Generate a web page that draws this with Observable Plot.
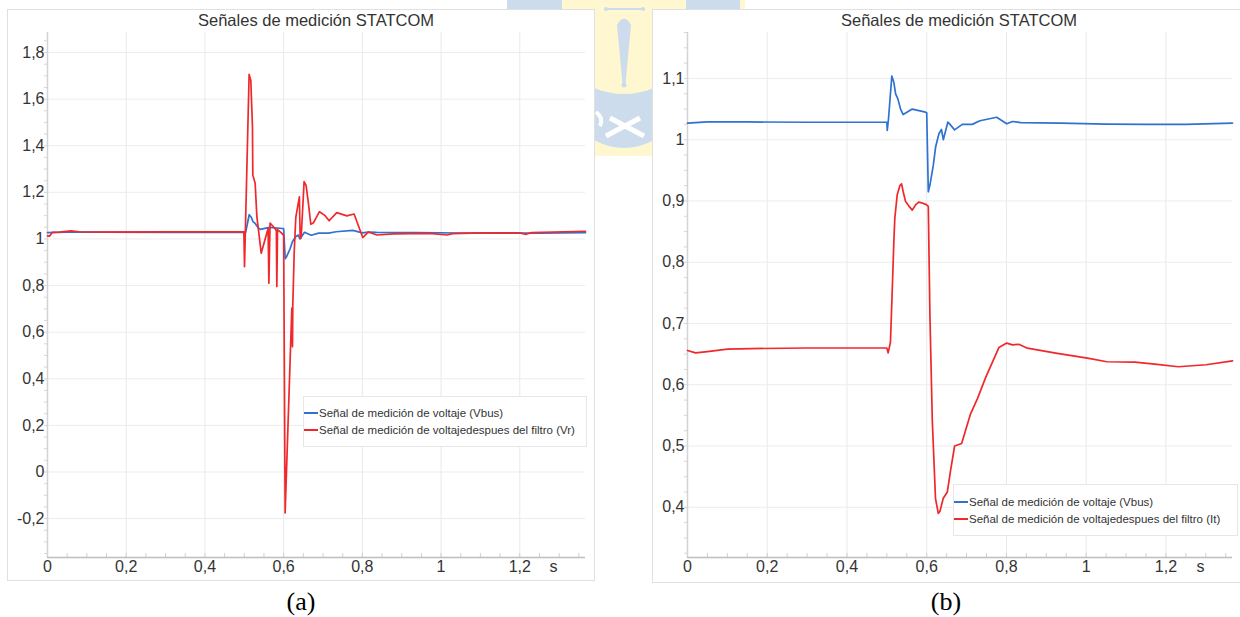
<!DOCTYPE html>
<html>
<head>
<meta charset="utf-8">
<script src="https://cdn.jsdelivr.net/npm/d3@7"></script>
<script src="https://cdn.jsdelivr.net/npm/@observablehq/plot@0.6"></script>
<style>
  html, body { margin: 0; padding: 0; background: #fff; }
  body { width: 1240px; height: 617px; overflow: hidden; position: relative; font-family: "Liberation Sans", Arial, sans-serif; }
  .panel { position: absolute; border: 1px solid #e0e0e0; background: #fff; box-sizing: border-box; }
  .chart { position: absolute; }
  .title { position: absolute; font-size: 16.5px; color: #333; transform: translateX(-50%); white-space: nowrap; line-height: 1; }
  .legend { position: absolute; border: 1px solid #e6e6e6; background: #fff; box-sizing: border-box; font-size: 11.5px; color: #333; }
  .legend .row { position: absolute; left: 0; display: flex; align-items: center; white-space: nowrap; height: 14px; }
  .legend .sw { width: 14px; height: 2px; margin-right: 1px; }
  .cap { position: absolute; font-family: "Liberation Serif", "Times New Roman", serif; font-size: 26px; color: #000; transform: translateX(-50%); line-height: 1; }
</style>
</head>
<body>
<svg id="logo" width="1240" height="617" style="position:absolute;left:0;top:0">
  <rect x="507" y="0" width="238" height="10" fill="#fff7cf"/>
  <rect x="507" y="0" width="55" height="10" fill="#cddcec"/>
  <rect x="686" y="0" width="54" height="10" fill="#cddcec"/>
  <rect x="594" y="0" width="60" height="156" fill="#fff7cf"/>
  <path d="M594,88 Q624,100 654,88 L654,140 Q624,156 594,140 Z" fill="#cddcec"/>
  <path d="M606,9 L643,9" stroke="#cddcec" stroke-width="2"/>
  <circle cx="606" cy="9" r="2" fill="#cddcec"/><circle cx="643" cy="9" r="2" fill="#cddcec"/>
  <path d="M617,25 Q624,12 631,25 L625.5,84 L622.5,84 Z" fill="#cddcec"/>
  <circle cx="624" cy="85" r="2.5" fill="#cddcec"/>
  <path d="M606,136 L640,118 M610,118 L644,136" stroke="#fff" stroke-width="5"/>
  <path d="M596,112 Q604,118 600,126" stroke="#fff" stroke-width="4" fill="none"/>
</svg>
<div class="panel" style="left:7px;top:9px;width:588px;height:572px"></div>
<div class="panel" style="left:652px;top:9px;width:600px;height:574px"></div>
<div class="title" style="left:316px;top:12px">Señales de medición STATCOM</div>
<div class="title" style="left:959px;top:12px">Señales de medición STATCOM</div>
<div id="chartA" class="chart" style="left:0;top:0"></div>
<div id="chartB" class="chart" style="left:620px;top:0"></div>
<div id="legendA" class="legend" style="left:303px;top:396px;width:284px;height:51px"></div>
<div id="legendB" class="legend" style="left:953px;top:484px;width:285px;height:52px"></div>
<div class="cap" style="left:301px;top:589px">(a)</div>
<div class="cap" style="left:946px;top:589px">(b)</div>
<script>
// ---------- data ----------
const chartTitle = "Señales de medición STATCOM";
const unitLabel = "s";
const seriesNamesA = ["Señal de medición de voltaje (Vbus)", "Señal de medición de voltajedespues del filtro (Vr)"];
const seriesNamesB = ["Señal de medición de voltaje (Vbus)", "Señal de medición de voltajedespues del filtro (It)"];
const seriesColors = ["#2f72d2", "#f0282c"];

// Vbus (shared by both panels)
const vbusT = [0, 0.05, 0.15, 0.3, 0.45, 0.5, 0.501, 0.504, 0.5125, 0.5176, 0.522, 0.5277, 0.5344, 0.541, 0.5638, 0.597, 0.6, 0.604, 0.608, 0.6165, 0.6223, 0.6306, 0.637, 0.6416, 0.653, 0.6557, 0.67, 0.689, 0.714, 0.7336, 0.7755, 0.8006, 0.815, 0.836, 0.936, 1.05, 1.15, 1.25, 1.367];
const vbusV = [1.027, 1.029, 1.029, 1.0285, 1.0285, 1.0285, 1.015, 1.033, 1.104, 1.0935, 1.0747, 1.0666, 1.05, 1.041, 1.05, 1.045, 1.044, 0.915, 0.926, 0.958, 0.988, 1.0097, 1.0167, 1.0, 1.0286, 1.027, 1.016, 1.025, 1.025, 1.031, 1.0367, 1.026, 1.0297, 1.028, 1.027, 1.0255, 1.025, 1.025, 1.027];

// Vr (panel a)
const vrT = [0, 0.005, 0.012, 0.03, 0.06, 0.08, 0.15, 0.3, 0.499, 0.5006, 0.5123, 0.5166, 0.5208, 0.5217, 0.5276, 0.532, 0.543, 0.5605, 0.5625, 0.5655, 0.57, 0.578, 0.5815, 0.5827, 0.5845, 0.595, 0.6, 0.6038, 0.6208, 0.6225, 0.6233, 0.627, 0.631, 0.64, 0.642, 0.6445, 0.652, 0.657, 0.663, 0.669, 0.676, 0.691, 0.7055, 0.7156, 0.735, 0.7606, 0.779, 0.801, 0.8155, 0.837, 0.88, 0.97, 1.015, 1.03, 1.1, 1.2, 1.216, 1.23, 1.367];
const vrV = [1.013, 1.012, 1.028, 1.029, 1.035, 1.031, 1.029, 1.03, 1.03, 0.881, 1.706, 1.68, 1.48, 1.274, 1.239, 1.096, 0.939, 1.045, 0.81, 1.068, 1.06, 1.045, 1.035, 0.796, 1.04, 1.025, 1.015, -0.176, 0.703, 0.538, 0.72, 0.95, 1.094, 1.181, 1.003, 1.005, 1.246, 1.23, 1.153, 1.063, 1.07, 1.117, 1.1, 1.078, 1.113, 1.099, 1.107, 1.006, 1.03, 1.017, 1.022, 1.024, 1.017, 1.023, 1.026, 1.026, 1.02, 1.027, 1.033];

// It (panel b)
const itT = [0, 0.02, 0.05, 0.1, 0.16, 0.3, 0.5, 0.5032, 0.509, 0.5135, 0.5176, 0.52, 0.526, 0.5327, 0.537, 0.541, 0.547, 0.555, 0.5637, 0.572, 0.58, 0.587, 0.599, 0.604, 0.608, 0.614, 0.622, 0.629, 0.633, 0.6416, 0.6517, 0.66, 0.67, 0.6876, 0.71, 0.727, 0.748, 0.781, 0.8006, 0.815, 0.831, 0.8526, 0.9237, 1.003, 1.052, 1.122, 1.172, 1.231, 1.301, 1.367];
const itV = [0.656, 0.652, 0.654, 0.658, 0.659, 0.66, 0.66, 0.652, 0.669, 0.753, 0.834, 0.872, 0.91, 0.925, 0.928, 0.915, 0.899, 0.892, 0.885, 0.8935, 0.898, 0.897, 0.894, 0.891, 0.715, 0.542, 0.4146, 0.39, 0.393, 0.4146, 0.425, 0.4605, 0.5, 0.504, 0.5526, 0.577, 0.612, 0.6607, 0.668, 0.665, 0.666, 0.6597, 0.6516, 0.6435, 0.6375, 0.637, 0.6337, 0.6294, 0.6326, 0.639];

// axes
const xDomain = [0, 1.367];
const xTicks = [0, 0.2, 0.4, 0.6, 0.8, 1, 1.2];
const yDomainA = [-0.367, 1.886];
const yTicksA = [-0.2, 0, 0.2, 0.4, 0.6, 0.8, 1, 1.2, 1.4, 1.6, 1.8];
const yDomainB = [0.318, 1.175];
const yTicksB = [0.4, 0.5, 0.6, 0.7, 0.8, 0.9, 1, 1.1];

// ---------- helpers ----------
const fmt = d => String(+(+d).toFixed(3)).replace(".", ",");
const zip = (ts, vs, s) => ts.map((t, i) => ({t, v: vs[i], s}));
const minor = (dom, step) => d3.range(Math.ceil(dom[0] / step - 1e-9), Math.floor(dom[1] / step + 1e-9) + 1).map(k => +(k * step).toFixed(4));

function makeChart({yDomain, yTicks, yMinorStep, series, width, marginLeft, marginRight}) {
  const data = series.flatMap(([ts, vs, name]) => zip(ts, vs, name));
  return Plot.plot({
    width, height: 590,
    marginLeft, marginRight, marginTop: 32, marginBottom: 33,
    style: {background: "transparent", fontFamily: "'Liberation Sans', Arial, sans-serif", fontSize: "16px", color: "#333", overflow: "visible"},
    x: {domain: xDomain, label: null},
    y: {domain: yDomain, label: null},
    color: {domain: series.map(s => s[2]), range: seriesColors},
    marks: [
      Plot.gridX(xTicks, {stroke: "#e9e9e9", strokeOpacity: 1}),
      Plot.gridY(yTicks, {stroke: "#ececec", strokeOpacity: 1}),
      Plot.axisY(minor(yDomain, yMinorStep), {tickSize: 3, text: null, stroke: "#d6d6d6", label: null}),
      Plot.axisX(minor(xDomain, 0.05), {tickSize: -4, text: null, stroke: "#d0d0d0", label: null}),
      Plot.ruleX(xDomain.slice(0, 1), {stroke: "#d4d4d4", strokeWidth: 1.5}),
      Plot.ruleY(yDomain.slice(0, 1), {stroke: "#bdbdbd", strokeWidth: 1.5}),
      Plot.axisY(yTicks, {tickSize: 0, tickPadding: 3, tickFormat: fmt, fontSize: 16, fill: "#333", label: null}),
      Plot.axisX(xTicks, {tickSize: 0, tickPadding: 3, tickFormat: fmt, fontSize: 16, fill: "#333", label: null}),
      Plot.text([unitLabel], {frameAnchor: "bottom-right", dx: -28, dy: 9, fontSize: 16, fill: "#333", lineAnchor: "middle"}),
      Plot.line(data, {x: "t", y: "v", z: "s", stroke: "s", strokeWidth: 1.7, curve: "linear"})
    ]
  });
}

document.getElementById("chartA").append(makeChart({
  yDomain: yDomainA, yTicks: yTicksA, yMinorStep: 0.05, width: 600, marginLeft: 47, marginRight: 15,
  series: [[vbusT, vbusV, seriesNamesA[0]], [vrT, vrV, seriesNamesA[1]]]
}));
document.getElementById("chartB").append(makeChart({
  yDomain: yDomainB, yTicks: yTicksB, yMinorStep: 0.025, width: 620, marginLeft: 67, marginRight: 8,
  series: [[vbusT, vbusV, seriesNamesB[0]], [itT, itV, seriesNamesB[1]]]
}));

function legend(el, names, tops) {
  names.forEach((n, i) => {
    const row = document.createElement("div");
    row.className = "row";
    row.style.top = tops[i] + "px";
    const sw = document.createElement("div");
    sw.className = "sw";
    sw.style.background = seriesColors[i];
    const tx = document.createElement("span");
    tx.textContent = n;
    row.append(sw, tx);
    el.append(row);
  });
}
legend(document.getElementById("legendA"), seriesNamesA, [8.5, 25.5]);
legend(document.getElementById("legendB"), seriesNamesB, [9.5, 26.5]);
document.querySelectorAll(".title").forEach(d => d.textContent = chartTitle);
</script>
</body>
</html>
